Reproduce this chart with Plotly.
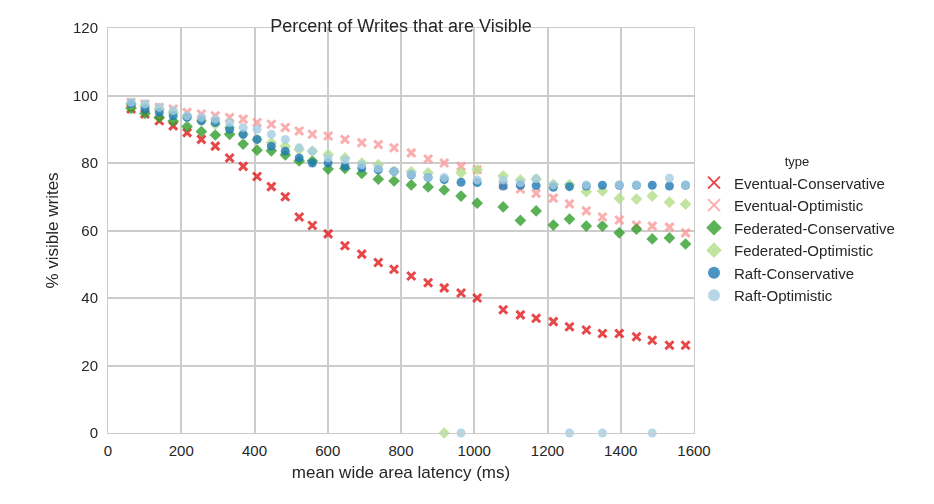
import plotly.graph_objects as go

latency = [63,101,140,178,216,255,293,332,369,407,446,484,522,558,601,647,693,738,781,828,874,918,964,1008,1079,1126,1169,1216,1260,1306,1350,1396,1443,1486,1533,1577]

eventual_cons = [96,94.5,92.5,91,89,87,85,81.5,79,76,73,70,64,61.5,59,55.5,53,50.5,48.5,46.5,44.5,43,41.5,40,36.5,35,34,33,31.5,30.5,29.5,29.5,28.5,27.5,26,26]
eventual_opt = [98,97.5,96.5,96,95,94.5,94,93.5,93,92,91.5,90.5,89.5,88.5,88,87,86,85.5,84.5,83,81.2,80,79,78,73.5,72.3,71,69.6,67.9,65.8,64,63.1,61.6,61.3,61,59.3]
federated_cons = [96.2,94.7,93.5,92.4,90.8,89.3,88.3,88.5,85.6,83.8,83.6,82.4,80.6,80.6,78.2,78.4,76.9,75.2,74.7,73.5,72.9,72,70.2,68.1,67,63,65.8,61.6,63.4,61.3,61.3,59.3,60.4,57.5,57.8,56]
federated_opt = [97.5,97,96,95,93.5,92.5,91.5,90.5,88.5,87,86,85,84,83.5,82.5,81.5,80,79.5,77.5,77.4,77.1,0,77.1,78,76.2,75,75.2,73.6,73.6,71.5,71.7,69.5,69.3,70.2,68.4,67.8]
raft_cons = [97.5,96,95,94,93.5,92.5,92,90,88.5,87,85,83.5,81.5,80,80,79,78.5,78,77.5,76.5,75.7,75.1,74.3,74.2,73.2,73.4,73.3,72.8,73,73.2,73.4,73.4,73.4,73.4,73.2,73.4]
raft_opt = [98,97.5,96.5,95.5,94,93.5,93,92,90.5,90,88.5,87,84.5,83.5,81.5,81,79.5,78.5,77.5,76.7,75.8,75.7,0,75,75,74.2,75.3,73.5,0,73.5,0,73.5,73.5,0,75.5,73.5]

series = [
    ("Eventual-Conservative", eventual_cons, "x-thin", "#e31a1c"),
    ("Eventual-Optimistic", eventual_opt, "x-thin", "#fb9a99"),
    ("Federated-Conservative", federated_cons, "diamond", "#33a02c"),
    ("Federated-Optimistic", federated_opt, "diamond", "#b2df8a"),
    ("Raft-Conservative", raft_cons, "circle", "#1f78b4"),
    ("Raft-Optimistic", raft_opt, "circle", "#a6cee3"),
]

fig = go.Figure()
for name, vals, sym, col in series:
    if sym == "x-thin":
        marker = dict(symbol="x-thin", size=8, color=col, line=dict(color=col, width=3))
    else:
        marker = dict(symbol=sym, size=9, color=col, line=dict(width=0))
    fig.add_trace(go.Scatter(x=latency, y=vals, mode="markers", name=name,
                             marker=marker, opacity=0.8, cliponaxis=False))

fig.update_layout(
    width=934, height=504, paper_bgcolor="white", plot_bgcolor="white",
    margin=dict(l=100, r=248, t=20, b=79),
    font=dict(family="Liberation Sans, Arial, sans-serif", size=15, color="#262626"),
    title=dict(text="Percent of Writes that are Visible", x=0.5, xref="paper", y=0.965, yanchor="middle",
               font=dict(size=18)),
    legend=dict(title=dict(text="type", side="top center", font=dict(size=13)), x=1.0, y=0.5, yanchor="middle",
                font=dict(size=15), bgcolor="rgba(0,0,0,0)", itemsizing="constant"),
    showlegend=True,
)
fig.update_xaxes(range=[0, 1600], dtick=200, showgrid=True, gridcolor="#cccccc", gridwidth=1.5,
                 zeroline=False, showline=True, linecolor="#cccccc", mirror=True, automargin=False,
                 ticks="outside", ticklen=4, tickcolor="white",
                 title=dict(text="mean wide area latency (ms)", font=dict(size=17), standoff=8), tickfont=dict(size=15))
fig.update_yaxes(range=[0, 120], dtick=20, showgrid=True, gridcolor="#cccccc", gridwidth=1.5,
                 zeroline=False, showline=True, linecolor="#cccccc", mirror=True, automargin=False,
                 ticks="outside", ticklen=6, tickcolor="white",
                 title=dict(text="% visible writes", font=dict(size=17), standoff=10), tickfont=dict(size=15))
fig.write_html("out.html")
